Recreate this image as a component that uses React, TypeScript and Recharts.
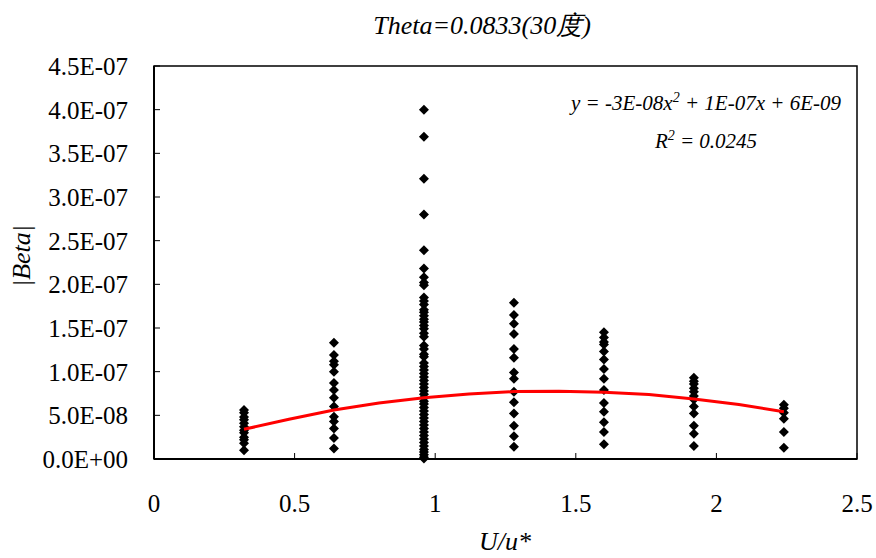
import { ScatterChart, Scatter, XAxis, YAxis, ReferenceArea } from "recharts";

// measured |Beta| at each U/u* station
const uStations = [0.32, 0.64, 0.96, 1.28, 1.6, 1.92, 2.24];

const beta032 = [5.6e-8, 5.3e-8, 4.8e-8, 4.5e-8, 4.1e-8, 3.7e-8, 3.3e-8, 3.0e-8, 2.5e-8, 2.2e-8, 1.8e-8, 1.0e-8];
const beta064 = [1.33e-7, 1.19e-7, 1.12e-7, 1.08e-7, 1.0e-7, 8.7e-8, 7.9e-8, 7.0e-8, 6.0e-8, 4.85e-8, 4.3e-8, 3.5e-8, 2.4e-8, 1.2e-8];
const beta096 = [
  4.0e-7, 3.69e-7, 3.21e-7, 2.8e-7, 2.39e-7, 2.18e-7, 2.08e-7, 2.02e-7, 1.99e-7, 1.85e-7, 1.81e-7, 1.77e-7,
  1.71e-7, 1.68e-7, 1.64e-7, 1.6e-7, 1.57e-7, 1.53e-7, 1.49e-7, 1.44e-7, 1.4e-7, 1.3e-7, 1.26e-7, 1.2e-7,
  1.17e-7, 1.1e-7, 1.06e-7, 1.02e-7, 9.8e-8, 9.4e-8, 9.0e-8, 8.6e-8, 8.2e-8, 7.8e-8, 7.4e-8, 7.0e-8, 6.6e-8,
  6.3e-8, 5.9e-8, 5.5e-8, 5.1e-8, 4.7e-8, 4.3e-8, 3.9e-8, 3.5e-8, 3.1e-8, 2.7e-8, 2.3e-8, 1.9e-8, 1.5e-8,
  1.1e-8, 8e-9, 5e-9, 2e-9, 5e-10,
];
const beta128 = [1.79e-7, 1.65e-7, 1.55e-7, 1.43e-7, 1.26e-7, 1.16e-7, 9.9e-8, 9.2e-8, 7.7e-8, 6.5e-8, 5.2e-8, 3.8e-8, 2.6e-8, 1.4e-8];
const beta160 = [1.45e-7, 1.39e-7, 1.34e-7, 1.31e-7, 1.23e-7, 1.14e-7, 1.03e-7, 9.2e-8, 7.9e-8, 6.4e-8, 5.4e-8, 4.2e-8, 3.1e-8, 1.7e-8];
const beta192 = [9.3e-8, 8.9e-8, 8.6e-8, 8.1e-8, 7.7e-8, 7.2e-8, 6.8e-8, 6.0e-8, 5.2e-8, 3.8e-8, 2.9e-8, 1.5e-8];
const beta224 = [6.2e-8, 5.8e-8, 5.3e-8, 4.6e-8, 3.1e-8, 1.3e-8];

const betaColumns = [beta032, beta064, beta096, beta128, beta160, beta192, beta224];

// polynomial trendline (order 2) sampled along U/u*
const trendU = [0.32, 0.48, 0.64, 0.8, 0.96, 1.12, 1.28, 1.44, 1.6, 1.76, 1.92, 2.08, 2.24];
const trendBeta = [3.4e-8, 4.55e-8, 5.6e-8, 6.4e-8, 7.0e-8, 7.45e-8, 7.72e-8, 7.77e-8, 7.65e-8, 7.38e-8, 6.88e-8, 6.25e-8, 5.4e-8];

const xTicks = [0, 0.5, 1, 1.5, 2, 2.5];
const yTicks = [0, 5e-8, 1e-7, 1.5e-7, 2e-7, 2.5e-7, 3e-7, 3.5e-7, 4e-7, 4.5e-7];

const points = uStations.flatMap((u, i) => betaColumns[i].map((beta) => ({ u, beta })));
const trend = trendU.map((u, i) => ({ u, beta: trendBeta[i] }));

const SERIF = "Liberation Serif";

// Excel-style "1.5E-07"
function sci(v: number): string {
  const [m, e] = v.toExponential(1).split("e");
  const sign = e.startsWith("-") ? "-" : "+";
  const digits = e.replace(/[+-]/, "").padStart(2, "0");
  return `${m}E${sign}${digits}`;
}

function Diamond(props: any) {
  const { cx, cy } = props;
  if (cx == null || cy == null) return <g />;
  const r = 5;
  return <path d={`M${cx},${cy - r}L${cx + r},${cy}L${cx},${cy + r}L${cx - r},${cy}Z`} fill="#000" />;
}

const textStyle: React.CSSProperties = {
  position: "absolute",
  fontFamily: SERIF,
  fontStyle: "italic",
  color: "#000",
  whiteSpace: "nowrap",
  lineHeight: 1,
  transform: "translate(-50%, -50%)",
};

export default function App() {
  return (
    <div style={{ position: "absolute", left: 0, top: 0, width: 876, height: 558, background: "#fff" }}>
      <ScatterChart width={876} height={558} margin={{ top: 66, right: 19, bottom: 0, left: 0 }}>
        <XAxis
          type="number"
          dataKey="u"
          domain={[0, 2.5]}
          ticks={xTicks}
          height={99}
          tickSize={-6}
          tickMargin={41}
          axisLine={{ stroke: "#000", strokeWidth: 2 }}
          tickLine={{ stroke: "#000" }}
          tick={{ fill: "#000", fontSize: 25, fontFamily: SERIF }}
        />
        <YAxis
          type="number"
          dataKey="beta"
          domain={[0, 4.5e-7]}
          ticks={yTicks}
          width={154}
          tickSize={-6}
          tickMargin={32}
          tickFormatter={sci}
          axisLine={{ stroke: "#000", strokeWidth: 2 }}
          tickLine={{ stroke: "#000" }}
          tick={{ fill: "#000", fontSize: 25, fontFamily: SERIF }}
        />
        <ReferenceArea x1={0} x2={2.5} y1={0} y2={4.5e-7} fill="none" stroke="#000" strokeWidth={1.5} />
        <Scatter data={points} shape={Diamond} isAnimationActive={false} />
        <Scatter
          data={trend}
          line={{ stroke: "#FF0000", strokeWidth: 3 }}
          shape={() => <g />}
          isAnimationActive={false}
        />
      </ScatterChart>

      <div style={{ ...textStyle, left: 482, top: 26, fontSize: 26 }}>Theta=0.0833(30度)</div>
      <div style={{ ...textStyle, left: 22, top: 256, fontSize: 26, transform: "translate(-50%, -50%) rotate(-90deg)" }}>
        |Beta|
      </div>
      <div style={{ ...textStyle, left: 505, top: 542, fontSize: 26 }}>U/u*</div>
      <div style={{ ...textStyle, left: 706, top: 102, fontSize: 21 }}>
        y = -3E-08x<sup style={{ fontSize: 14 }}>2</sup> + 1E-07x + 6E-09
      </div>
      <div style={{ ...textStyle, left: 706, top: 140, fontSize: 21 }}>
        R<sup style={{ fontSize: 14 }}>2</sup> = 0.0245
      </div>
    </div>
  );
}
